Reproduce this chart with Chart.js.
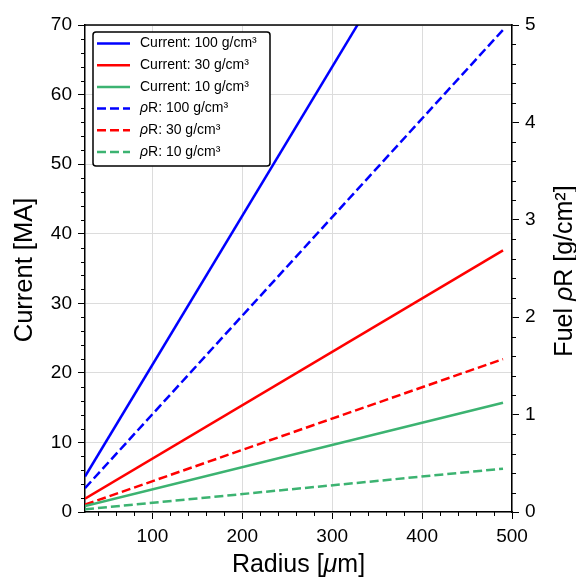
<!DOCTYPE html>
<html><head><meta charset="utf-8">
<script src="https://cdn.jsdelivr.net/npm/chart.js@4.4.1/dist/chart.umd.min.js"></script>
<style>html,body{margin:0;padding:0;background:#fff;}#wrap{width:576px;height:579px;}</style>
</head><body><div id="wrap"><canvas id="c" width="576" height="579"></canvas></div>
<script>
// ---- data ----
const radius = [25, 490];              // µm, start/end of the curves
const radiusCurrent100 = [25, 329];    // blue current leaves the top of the plot
const current100 = [5.1, 70.2];        // MA
const current30 = [1.9, 37.6];
const current10 = [0.85, 15.7];
const rhoR100 = [0.245, 4.95];         // g/cm^2
const rhoR30 = [0.075, 1.57];
const rhoR10 = [0.027, 0.445];
const seriesLabels = ['Current: 100 g/cm³', 'Current: 30 g/cm³', 'Current: 10 g/cm³',
                      'ρR: 100 g/cm³', 'ρR: 30 g/cm³', 'ρR: 10 g/cm³'];
const xRange = [25, 500], xStep = 100, xMinor = 20;
const yRange = [0, 70], yStep = 10, yMinor = 2;
const y1Range = [0, 5], y1Step = 1, y1Minor = 0.2;
const xTitle = 'Radius [μm]', yTitle = 'Current [MA]', y1Title = 'Fuel ρR [g/cm²]';

const FONT = '"Liberation Sans", Arial, Helvetica, sans-serif';
const BLUE = '#0000ff', RED = '#ff0000', GREEN = '#3cb371';
const DASH = [9, 4];

function pts(xs, ys) { return xs.map((x, i) => ({x: x, y: ys[i]})); }

function drawRich(ctx, text, x, y, size, rot) {
  const runs = [];
  for (const ch of text) {
    const it = (ch === 'ρ' || ch === 'μ');
    if (runs.length && runs[runs.length - 1].it === it) runs[runs.length - 1].t += ch;
    else runs.push({t: ch, it: it});
  }
  ctx.save();
  ctx.translate(x, y);
  ctx.rotate(rot || 0);
  ctx.textBaseline = 'middle';
  ctx.textAlign = 'left';
  ctx.fillStyle = '#000';
  let w = 0;
  runs.forEach(r => { ctx.font = (r.it ? 'italic ' : '') + size + 'px ' + FONT; r.w = ctx.measureText(r.t).width; w += r.w; });
  let cx = -w / 2;
  runs.forEach(r => { ctx.font = (r.it ? 'italic ' : '') + size + 'px ' + FONT; ctx.fillText(r.t, cx, 0); cx += r.w; });
  ctx.restore();
  return w;
}
function drawRichLeft(ctx, text, x, y, size) {
  ctx.save();
  let w = 0;
  for (const ch of text) { ctx.font = ((ch === 'ρ' || ch === 'μ') ? 'italic ' : '') + size + 'px ' + FONT; w += ctx.measureText(ch).width; }
  ctx.restore();
  drawRich(ctx, text, x + w / 2, y, size, 0);
}

const decorations = {
  id: 'decorations',
  afterDraw(chart) {
    const ctx = chart.ctx, a = chart.chartArea;
    const sx = chart.scales.x, sy = chart.scales.y, sy1 = chart.scales.y1;
    ctx.save();
    // top frame
    ctx.strokeStyle = '#000'; ctx.lineWidth = 1.5;
    ctx.beginPath(); ctx.moveTo(a.left - 0.75, a.top); ctx.lineTo(a.right + 0.75, a.top); ctx.stroke();
    // minor ticks
    ctx.lineWidth = 1;
    ctx.beginPath();
    for (let v = Math.ceil(xRange[0] / xMinor) * xMinor; v <= xRange[1] + 1e-9; v += xMinor) {
      if (Math.abs(v / xStep - Math.round(v / xStep)) < 1e-6) continue;
      const p = Math.round(sx.getPixelForValue(v)) + 0.5;
      ctx.moveTo(p, a.bottom); ctx.lineTo(p, a.bottom + 4);
    }
    for (let v = yRange[0]; v <= yRange[1] + 1e-9; v += yMinor) {
      if (Math.abs(v / yStep - Math.round(v / yStep)) < 1e-6) continue;
      const p = Math.round(sy.getPixelForValue(v)) + 0.5;
      ctx.moveTo(a.left, p); ctx.lineTo(a.left - 4, p);
    }
    for (let i = 0; i * y1Minor <= y1Range[1] + 1e-9; i++) {
      const v = i * y1Minor;
      if (Math.abs(v / y1Step - Math.round(v / y1Step)) < 1e-6) continue;
      const p = Math.round(sy1.getPixelForValue(v)) + 0.5;
      ctx.moveTo(a.right, p); ctx.lineTo(a.right + 4, p);
    }
    ctx.stroke();
    // axis titles
    drawRich(ctx, xTitle, (a.left + a.right) / 2, 565, 25, 0);
    drawRich(ctx, yTitle, 25, 270, 25.5, -Math.PI / 2);
    drawRich(ctx, y1Title, 565, 271, 25, -Math.PI / 2);
    // legend
    const lx = 93, ly = 32, lw = 177, lh = 134, r = 3;
    ctx.beginPath();
    ctx.moveTo(lx + r, ly); ctx.lineTo(lx + lw - r, ly); ctx.quadraticCurveTo(lx + lw, ly, lx + lw, ly + r);
    ctx.lineTo(lx + lw, ly + lh - r); ctx.quadraticCurveTo(lx + lw, ly + lh, lx + lw - r, ly + lh);
    ctx.lineTo(lx + r, ly + lh); ctx.quadraticCurveTo(lx, ly + lh, lx, ly + lh - r);
    ctx.lineTo(lx, ly + r); ctx.quadraticCurveTo(lx, ly, lx + r, ly);
    ctx.closePath();
    ctx.fillStyle = '#fff'; ctx.fill();
    ctx.strokeStyle = '#000'; ctx.lineWidth = 1.5; ctx.stroke();
    chart.data.datasets.forEach((ds, i) => {
      const yy = 43.5 + i * 21.7;
      ctx.save();
      ctx.strokeStyle = ds.borderColor; ctx.lineWidth = ds.borderWidth;
      ctx.setLineDash(ds.borderDash || []);
      ctx.beginPath(); ctx.moveTo(97, yy); ctx.lineTo(130, yy); ctx.stroke();
      ctx.restore();
      drawRichLeft(ctx, ds.label, 140, yy, 14);
    });
    ctx.restore();
  }
};

const mk = (label, data, color, axis, dashed) => ({
  label: label, data: data, borderColor: color, backgroundColor: color, borderWidth: 2.5,
  borderDash: dashed ? DASH : [], pointRadius: 0, yAxisID: axis, fill: false, tension: 0
});

new Chart(document.getElementById('c'), {
  type: 'line',
  data: {
    datasets: [
      mk(seriesLabels[0], pts(radiusCurrent100, current100), BLUE, 'y', false),
      mk(seriesLabels[1], pts(radius, current30), RED, 'y', false),
      mk(seriesLabels[2], pts(radius, current10), GREEN, 'y', false),
      mk(seriesLabels[3], pts(radius, rhoR100), BLUE, 'y1', true),
      mk(seriesLabels[4], pts(radius, rhoR30), RED, 'y1', true),
      mk(seriesLabels[5], pts(radius, rhoR10), GREEN, 'y1', true)
    ]
  },
  options: {
    responsive: false, animation: false, devicePixelRatio: 1,
    layout: {padding: {top: 25, left: 0, right: 0, bottom: 0}},
    plugins: {legend: {display: false}, tooltip: {enabled: false}},
    scales: {
      x: {
        type: 'linear', position: 'bottom', min: xRange[0], max: xRange[1],
        ticks: {stepSize: xStep, includeBounds: false, color: '#000', font: {family: FONT, size: 19}, padding: 6, maxRotation: 0},
        grid: {color: '#dcdcdc', lineWidth: 1, tickColor: '#000', tickLength: 7, tickWidth: 1},
        border: {color: '#000', width: 1.5},
        afterFit: s => { s.height = 67; }
      },
      y: {
        type: 'linear', position: 'left', min: yRange[0], max: yRange[1],
        ticks: {stepSize: yStep, color: '#000', font: {family: FONT, size: 19}, padding: 6},
        grid: {color: '#dcdcdc', lineWidth: 1, tickColor: '#000', tickLength: 7, tickWidth: 1},
        border: {color: '#000', width: 1.5},
        afterFit: s => { s.width = 85; }
      },
      y1: {
        type: 'linear', position: 'right', min: y1Range[0], max: y1Range[1],
        ticks: {stepSize: y1Step, color: '#000', font: {family: FONT, size: 19}, padding: 6},
        grid: {drawOnChartArea: false, tickColor: '#000', tickLength: 7, tickWidth: 1},
        border: {color: '#000', width: 1.5},
        afterFit: s => { s.width = 64; }
      }
    }
  },
  plugins: [decorations]
});
</script></body></html>
